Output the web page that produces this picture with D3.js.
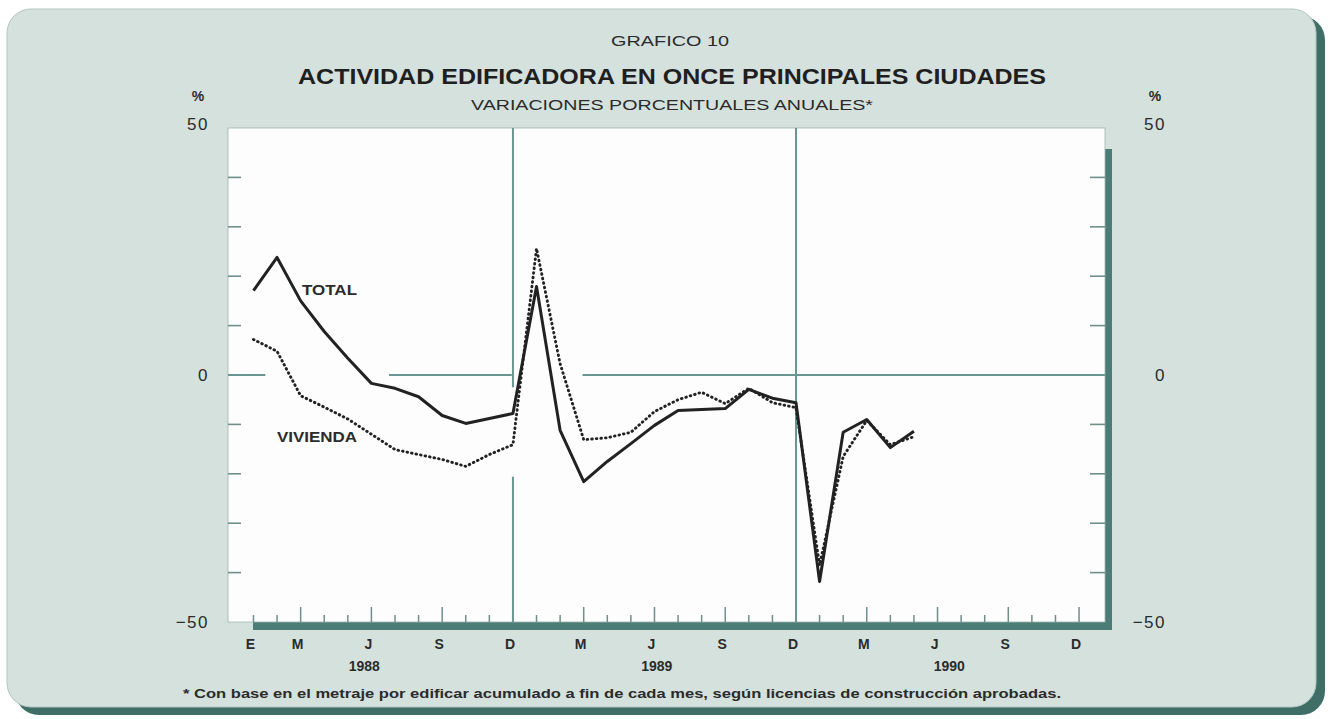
<!DOCTYPE html>
<html><head><meta charset="utf-8">
<script src="https://cdn.jsdelivr.net/npm/d3@7"></script>
<style>
html,body{margin:0;padding:0;background:#fff;}
svg{display:block;}
text{font-family:"Liberation Sans", Arial, sans-serif;}
</style></head><body>
<svg id="chart" width="1332" height="719"></svg>
<script>
// ---------------- data ----------------
const monthLabels = ["E","M","J","S","D","M","J","S","D","M","J","S","D"];
const monthLabelIndex = [0,2,5,8,11,14,17,20,23,26,29,32,35];
const yearLabels = ["1988","1989","1990"];
const yearLabelIndex = [4.7,17.1,29.5];
const yTickValues = [-50,-40,-30,-20,-10,0,10,20,30,40,50];
const yLabelValues = [50,0,-50];
// monthly values, Jan 1988 .. May 1990
const totalValues = [
  17.1, 23.8, 15.0, 8.8, 3.4, -1.7, -2.7, -4.4, -8.2, -9.8, -8.8, -7.8,
  17.9, -11.2, -21.6, -17.5, -13.9, -10.2, -7.2, -7.0, -6.8, -2.9, -4.7, -5.6,
  -41.8, -11.6, -9.0, -14.7, -11.4
];
const viviendaValues = [
  7.2, 4.8, -4.2, -6.5, -8.9, -12.0, -15.1, -16.1, -17.1, -18.5, -16.1, -14.1,
  25.6, 2.3, -13.1, -12.7, -11.6, -7.4, -5.0, -3.5, -5.8, -2.7, -5.6, -6.6,
  -38.5, -16.5, -9.2, -14.1, -12.5
];
const seriesNames = ["TOTAL","VIVIENDA"];
const yearSeparators = [11,23];          // Dec 1988, Dec 1989

// ---------------- layout ----------------
const svg = d3.select("#chart");
const P = {left:228, right:1105, top:128, bottom:622};
const x = d3.scaleLinear().domain([-1.08,36.1]).range([P.left,P.right]);
const y = d3.scaleLinear().domain([-50,50]).range([P.bottom,P.top]);

const C = {
  panel:"#d5e1dd", panelShadow:"#3f6e67", plotShadow:"#4b7c75",
  grid:"#6a9590", tick:"#6f8f8b", ink:"#222222", text:"#2b2b2b"
};

// outer panel with shadow
svg.append("rect").attr("x",15).attr("y",16).attr("width",1310).attr("height",699)
  .attr("rx",24).attr("fill",C.panelShadow);
svg.append("rect").attr("x",7).attr("y",9).attr("width",1309).attr("height",698)
  .attr("rx",24).attr("fill",C.panel).attr("stroke","#b3c7c2").attr("stroke-width",1);

// plot shadow + plot area
svg.append("rect").attr("x",253).attr("y",149).attr("width",P.right+7-253).attr("height",P.bottom+8-149)
  .attr("fill",C.plotShadow);
svg.append("rect").attr("x",P.left).attr("y",P.top).attr("width",P.right-P.left).attr("height",P.bottom-P.top)
  .attr("fill","#fcfdfc").attr("stroke","#9fb3af").attr("stroke-width",0.8);

// zero line (with gaps where curves cross), in data units
const zeroSegments = [[-1.08,0.5],[5.75,10.95],[13.95,36.1]];
svg.append("g").selectAll("line").data(zeroSegments).join("line")
  .attr("x1",d=>x(d[0])).attr("x2",d=>x(d[1]))
  .attr("y1",y(0)).attr("y2",y(0))
  .attr("stroke",C.grid).attr("stroke-width",2);

// year separators
const sepSegments = [
  {m:yearSeparators[0], a:50, b:-2.5},
  {m:yearSeparators[0], a:-20.6, b:-50},
  {m:yearSeparators[1], a:50, b:-50}
];
svg.append("g").selectAll("line").data(sepSegments).join("line")
  .attr("x1",d=>x(d.m)).attr("x2",d=>x(d.m))
  .attr("y1",d=>y(d.a)).attr("y2",d=>y(d.b))
  .attr("stroke",C.grid).attr("stroke-width",2);

// y ticks (inner)
const innerY = yTickValues.filter(v=>v!==0 && Math.abs(v)!==50);
svg.append("g").selectAll("line").data(innerY).join("line")
  .attr("x1",P.left).attr("x2",P.left+13).attr("y1",d=>y(d)).attr("y2",d=>y(d))
  .attr("stroke",C.tick).attr("stroke-width",1.6);
svg.append("g").selectAll("line").data(innerY).join("line")
  .attr("x1",P.right-15).attr("x2",P.right).attr("y1",d=>y(d)).attr("y2",d=>y(d))
  .attr("stroke",C.tick).attr("stroke-width",1.6);

// x month ticks
const monthIdx = d3.range(0,36).filter(i=>!yearSeparators.includes(i));
svg.append("g").selectAll("line").data(monthIdx).join("line")
  .attr("x1",d=>x(d)).attr("x2",d=>x(d))
  .attr("y1",P.bottom).attr("y2",d=>P.bottom-(d%3===2?15:7))
  .attr("stroke",C.tick).attr("stroke-width",1.5);

// y labels
const yl = svg.append("g").attr("fill",C.text).attr("font-size",17).attr("letter-spacing",1.5);
yl.selectAll("text.l").data(yLabelValues).join("text").attr("class","l")
  .attr("x",209).attr("y",d=>y(d)+(d===50?2:6)).attr("text-anchor","end")
  .text(d=>d<0?"\u2212"+Math.abs(d):d);
yl.selectAll("text.r").data(yLabelValues).join("text").attr("class","r")
  .attr("x",1166).attr("y",d=>y(d)+(d===50?2:6)).attr("text-anchor","end")
  .text(d=>d<0?"\u2212"+Math.abs(d):d);
svg.append("text").attr("x",198).attr("y",101).attr("text-anchor","middle")
  .attr("font-size",14).attr("font-weight","bold").attr("fill",C.text).text("%");
svg.append("text").attr("x",1155).attr("y",101).attr("text-anchor","middle")
  .attr("font-size",14).attr("font-weight","bold").attr("fill",C.text).text("%");

// month + year labels
svg.append("g").selectAll("text").data(monthLabels).join("text")
  .attr("x",(d,i)=>x(monthLabelIndex[i])-3).attr("y",649).attr("text-anchor","middle")
  .attr("font-size",14).attr("font-weight","bold").attr("fill",C.text).text(d=>d);
svg.append("g").selectAll("text").data(yearLabels).join("text")
  .attr("x",(d,i)=>x(yearLabelIndex[i])).attr("y",671).attr("text-anchor","middle")
  .attr("font-size",14).attr("font-weight","bold").attr("fill",C.text).text(d=>d);

// series
const line = d3.line().x((d,i)=>x(i)).y(d=>y(d));
svg.append("path").datum(viviendaValues).attr("d",line).attr("fill","none")
  .attr("stroke",C.ink).attr("stroke-width",2.9).attr("stroke-dasharray","0.6,4")
  .attr("stroke-linecap","round").attr("stroke-linejoin","round");
svg.append("path").datum(totalValues).attr("d",line).attr("fill","none")
  .attr("stroke",C.ink).attr("stroke-width",3).attr("stroke-linejoin","round");

// series labels
svg.append("text").attr("x",302).attr("y",295).attr("font-size",15).attr("font-weight","bold")
  .attr("fill",C.text).attr("textLength",55).attr("lengthAdjust","spacingAndGlyphs").text(seriesNames[0]);
svg.append("text").attr("x",277).attr("y",442).attr("font-size",15).attr("font-weight","bold")
  .attr("fill",C.text).attr("textLength",80).attr("lengthAdjust","spacingAndGlyphs").text(seriesNames[1]);

// titles
svg.append("text").attr("x",670).attr("y",46).attr("text-anchor","middle").attr("font-size",15)
  .attr("fill",C.text).attr("textLength",118).attr("lengthAdjust","spacingAndGlyphs").text("GRAFICO 10");
svg.append("text").attr("x",672).attr("y",84).attr("text-anchor","middle").attr("font-size",22)
  .attr("font-weight","bold").attr("fill","#1f1f1f").attr("textLength",748).attr("lengthAdjust","spacingAndGlyphs")
  .text("ACTIVIDAD EDIFICADORA EN ONCE PRINCIPALES CIUDADES");
svg.append("text").attr("x",672).attr("y",110).attr("text-anchor","middle").attr("font-size",14)
  .attr("fill",C.text).attr("textLength",402).attr("lengthAdjust","spacingAndGlyphs")
  .text("VARIACIONES PORCENTUALES ANUALES*");

// footnote
svg.append("text").attr("x",183).attr("y",698).attr("font-size",12).attr("font-weight","bold")
  .attr("fill",C.text).attr("textLength",878).attr("lengthAdjust","spacingAndGlyphs")
  .text("* Con base en el metraje por edificar acumulado a fin de cada mes, según licencias de construcción aprobadas.");
</script>
</body></html>
